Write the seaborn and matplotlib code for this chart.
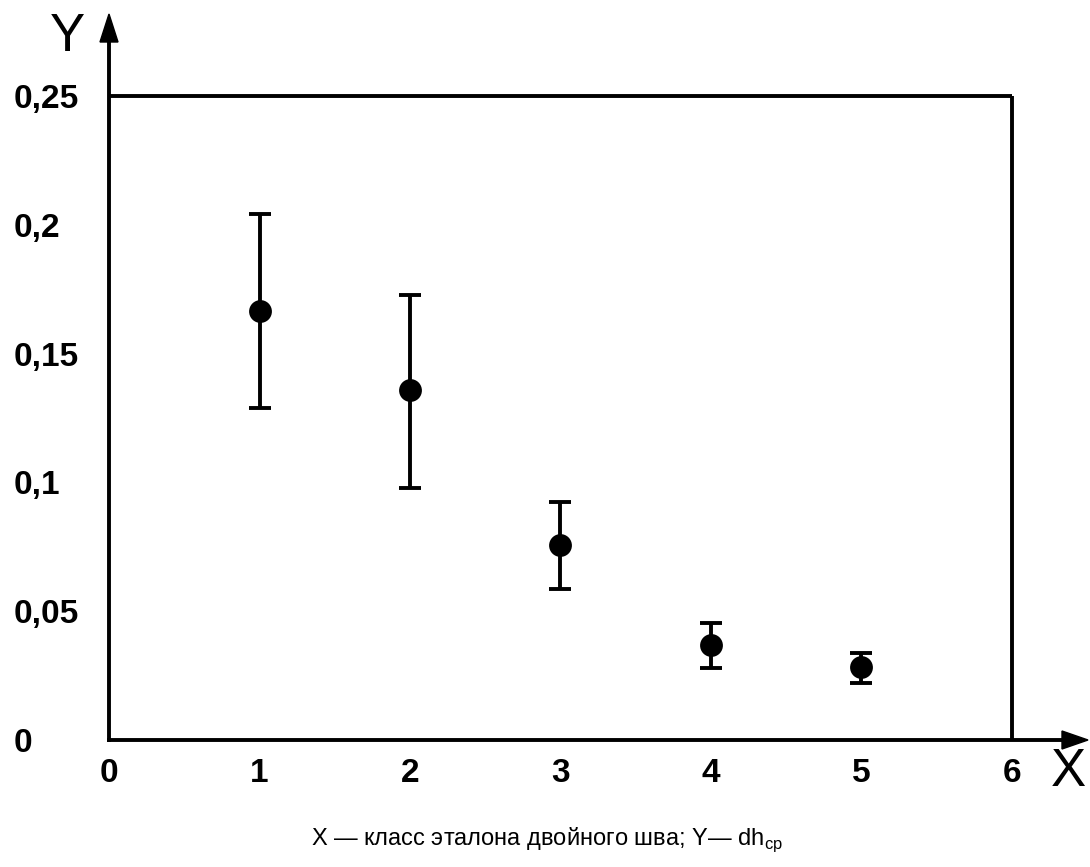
import matplotlib
matplotlib.use("Agg")
import matplotlib.pyplot as plt
from matplotlib.patches import Polygon
import seaborn as sns
import pandas as pd
import numpy as np

classes = [1, 2, 3, 4, 5]
dh_mean = [0.1665, 0.1359, 0.0757, 0.0369, 0.0283]
dh_low = [0.1289, 0.0978, 0.0586, 0.0280, 0.0221]
dh_high = [0.2042, 0.1727, 0.0924, 0.0454, 0.0338]
x_ticks = [0, 1, 2, 3, 4, 5, 6]
x_labels = ["0", "1", "2", "3", "4", "5", "6"]
y_ticks = [0, 0.05, 0.1, 0.15, 0.2, 0.25]
y_labels = ["0", "0,05", "0,1", "0,15", "0,2", "0,25"]
caption = "X — класс эталона двойного шва; Y— dh$_{\\mathregular{ср}}$"

sns.set_theme(style="white")
plt.rcParams["font.family"] = ["Liberation Sans", "DejaVu Sans"]
plt.rcParams["mathtext.fontset"] = "custom"
plt.rcParams["mathtext.rm"] = "Liberation Sans"
plt.rcParams["text.color"] = "black"
plt.rcParams["xtick.color"] = "black"
plt.rcParams["ytick.color"] = "black"

df = pd.DataFrame({"x": classes, "y": dh_mean})

fig = plt.figure(figsize=(10.9, 8.67), dpi=100)
W, H = 1090, 867
x0, y0 = 109, 740
xr, yt = 1070, 30
ax = fig.add_axes([x0 / W, (H - y0) / H, (xr - x0) / W, (y0 - yt) / H])
ax.set_xlim(0, (xr - x0) / 150.5)
ax.set_ylim(0, (y0 - yt) / 2576.0)

lw = 2.8
ax.errorbar(classes, dh_mean,
            yerr=[np.array(dh_mean) - np.array(dh_low), np.array(dh_high) - np.array(dh_mean)],
            fmt="none", ecolor="black", elinewidth=lw, capsize=8, capthick=lw, zorder=2)
sns.scatterplot(data=df, x="x", y="y", ax=ax, color="black", s=270, edgecolor="black",
                linewidth=0, zorder=3, legend=False)

# frame lines
ax.plot([0, 6], [0.25, 0.25], color="black", lw=lw, solid_capstyle="butt")
ax.plot([6, 6], [0, 0.25], color="black", lw=lw, solid_capstyle="butt")

for s in ["top", "right"]:
    ax.spines[s].set_visible(False)
for s in ["left", "bottom"]:
    ax.spines[s].set_color("black")
    ax.spines[s].set_linewidth(lw)

# arrow heads (pixel positions converted to figure fraction)
def fp(px, py):
    return (px / W, 1 - py / H)

fig.add_artist(Polygon([fp(1088, 740), fp(1062, 731), fp(1062, 749)], closed=True,
                       transform=fig.transFigure, color="black"))
fig.add_artist(Polygon([fp(109, 14), fp(100, 42), fp(118, 42)], closed=True,
                       transform=fig.transFigure, color="black"))

ax.set_xticks(x_ticks)
ax.set_xticklabels(x_labels, fontsize=24, fontweight="bold")
ax.set_yticks(y_ticks)
ax.set_yticklabels(y_labels, fontsize=24, fontweight="bold", ha="left")
ax.tick_params(axis="x", direction="in", length=6, width=lw, color="black", pad=13)
ax.tick_params(axis="y", length=0, pad=(x0 - 14) * 0.72)
ax.set_xlabel("")
ax.set_ylabel("")

fig.text(1068 / W, 1 - 772 / H, "X", fontsize=38, ha="center", va="center")
fig.text(67 / W, 1 - 37 / H, "Y", fontsize=38, ha="center", va="center")
fig.text(547 / W, 1 - 840 / H, caption, fontsize=17, ha="center", va="center")

fig.savefig("out.png", dpi=100)
